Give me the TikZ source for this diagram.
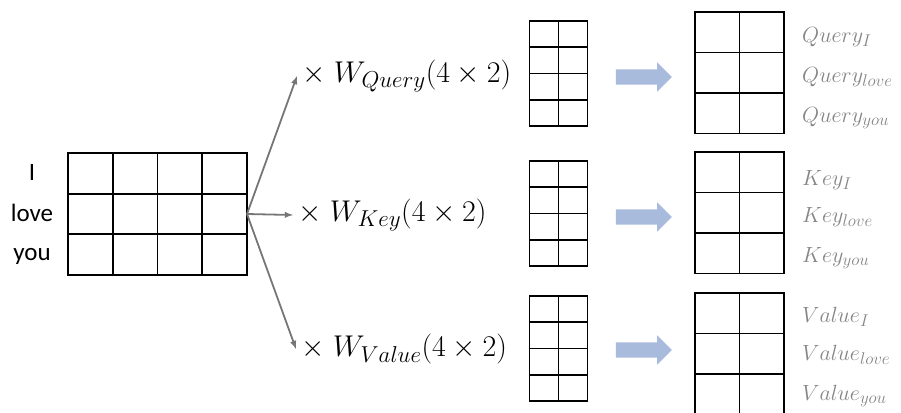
\RequirePackage{fix-cm}
\documentclass[tikz,border=0pt]{standalone}
\usepackage{fontspec}
\usepackage{tikz}
\usetikzlibrary{arrows, shapes.arrows, positioning}
\newfontfamily\wordfont{Carlito}
\definecolor{proj-blue}{HTML}{A9BBDC}
\definecolor{label-gray}{HTML}{858585}
\definecolor{link-gray}{HTML}{767676}
% larger subscripts for the labels
\DeclareMathSizes{30}{30}{23}{16}
\DeclareMathSizes{22}{22}{17}{12}

\begin{document}
\begin{tikzpicture}[x=1pt, y=-1pt,
    incell/.style={draw, line width=1.7pt, minimum width=44.75pt, minimum height=40.67pt, inner sep=0pt, outer sep=0pt},
    wcell/.style={draw, line width=1.7pt, minimum width=29pt, minimum height=26.25pt, inner sep=0pt, outer sep=0pt},
    outcell/.style={draw, line width=1.7pt, minimum width=44.5pt, minimum height=40.5pt, inner sep=0pt, outer sep=0pt},
    word/.style={anchor=base, inner sep=0pt, font=\wordfont\fontsize{25}{30}\selectfont},
    weight/.style={anchor=west, inner sep=5pt, font=\fontsize{30}{36}\selectfont},
    rowname/.style={anchor=base west, inner sep=0pt, text=label-gray, font=\fontsize{22}{26}\selectfont},
    link/.style={-latex, line width=1.8pt, draw=link-gray},
    proj/.style={single arrow, fill=proj-blue, draw=none, minimum height=56pt,
                 inner xsep=0pt, inner ysep=7.5pt, single arrow head extend=7pt}
]
    \useasboundingbox (0,0) rectangle (901,412);
    \clip (0,0) rectangle (901,412);

    % Embedded words (3 x 4)
    \node (w1) [word] at (32,180) {I};
    \node (w2) [word] at (32,221) {love};
    \node (w3) [word] at (32,260) {you};
    \foreach \r in {1,2,3} {
        \foreach \c in {1,...,4} {
            \node (in-\r-\c) [incell] at ({68+44.75*(\c-0.5)}, {153+40.67*(\r-0.5)}) {};
        }
    }
    \coordinate (src) at (in-2-4.east);

    % Weight labels
    \node (lq) [weight] at (297,76)  {$\times\; W_{Query}(4\times 2)$};
    \node (lk) [weight] at (293,215) {$\times\; W_{Key}(4\times 2)$};
    \node (lv) [weight] at (296,349) {$\times\; W_{Value}(4\times 2)$};

    \draw[link] (src) -- (lq.west);
    \draw[link] (src) -- (lk.west);
    \draw[link] (src) -- (lv.west);

    % Weight matrices (4 x 2)
    \foreach \m/\top in {q/21, k/161, v/296} {
        \foreach \r in {1,...,4} {
            \foreach \c in {1,2} {
                \node (w\m-\r-\c) [wcell] at ({529.5+29*(\c-0.5)}, {\top+26.25*(\r-0.5)}) {};
            }
        }
    }

    % Projection arrows
    \node (pq) [proj] at (640,77)  {};
    \node (pk) [proj] at (640,217) {};
    \node (pv) [proj] at (640,350) {};

    % Resulting Q, K, V (3 x 2)
    \foreach \m/\top in {q/12, k/152, v/293} {
        \foreach \r in {1,2,3} {
            \foreach \c in {1,2} {
                \node (o\m-\r-\c) [outcell] at ({695+44.5*(\c-0.5)}, {\top+40.5*(\r-0.5)}) {};
            }
        }
    }

    % Row names
    \node (q1) [rowname] at (802,42)  {$Query_{I}$};
    \node (q2) [rowname] at (802,82)  {$Query_{love}$};
    \node (q3) [rowname] at (802,122) {$Query_{you}$};
    \node (k1) [rowname] at (802,185) {$Key_{I}$};
    \node (k2) [rowname] at (802,222) {$Key_{love}$};
    \node (k3) [rowname] at (802,262) {$Key_{you}$};
    \node (v1) [rowname] at (802,322) {$Value_{I}$};
    \node (v2) [rowname] at (802,360) {$Value_{love}$};
    \node (v3) [rowname] at (802,400) {$Value_{you}$};
\end{tikzpicture}
\end{document}
